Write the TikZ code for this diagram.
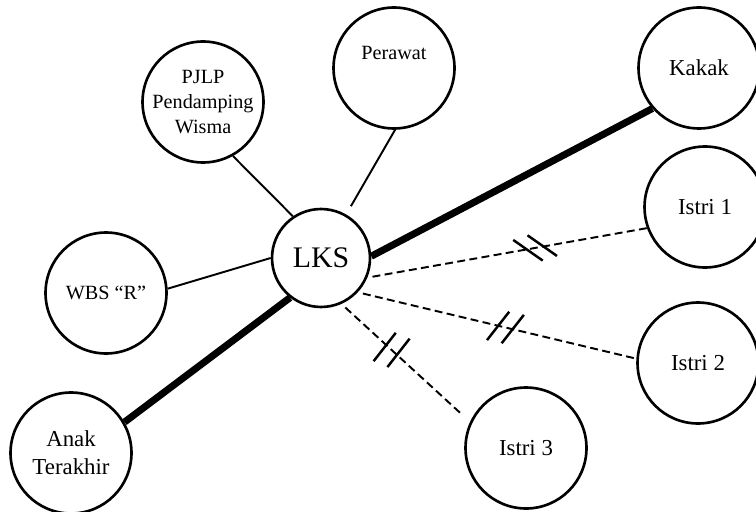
\documentclass[tikz,border=0pt]{standalone}
\usepackage{fontspec}
\setmainfont{Liberation Serif}
\usetikzlibrary{positioning}

% two slanted bars across a broken tie: at, offset angle, bar angle
\newcommand{\dblcut}[3]{%
  \draw[cutline] (#1) ++(#2:-7.5) ++(#3:-18) -- ++(#3:36);
  \draw[cutline] (#1) ++(#2:7.5) ++(#3:-18) -- ++(#3:36);}

\begin{document}
\begin{tikzpicture}[
    x=0.02cm, y=0.02cm,
    person/.style={circle,draw,line width=1.5pt,minimum size=2.42cm,inner sep=0pt,align=center,
        font=\fontsize{13}{16}\selectfont},
    smalltext/.style={font=\fontsize{11.5}{14}\selectfont},
    hub/.style={person,minimum size=1.96cm,font=\fontsize{17}{20}\selectfont},
    link/.style={line width=1.1pt},
    strong/.style={line width=4pt},
    weak/.style={line width=1.1pt,dash pattern=on 4.5pt off 2.5pt,shorten <=3pt},
    cutline/.style={line width=1.4pt}
]
\useasboundingbox (0,0) rectangle (756,511);

% Center
\node[hub] (lks) at (321,253) {LKS};

% Persons around
\node[person,smalltext] (pjlp) at (203,409) {PJLP\\Pendamping\\Wisma};
\node[person,smalltext,text depth=0.6cm] (perawat) at (394,443) {Perawat};
\node[person] (kakak) at (699,443) {Kakak};
\node[person] (istri1) at (705,304) {Istri 1};
\node[person] (istri2) at (698,148) {Istri 2};
\node[person] (istri3) at (526,63) {Istri 3};
\node[person,smalltext] (wbs) at (106,218) {WBS “R”};
\node[person] (anak) at (71,58) {Anak\\Terakhir};

% Ordinary ties
\draw[link] (pjlp.-61) -- (lks.124);
\draw[link,shorten >=0.19cm] (perawat.-89) -- (lks.60);
\draw[link] (wbs.4) -- (lks.180);

% Strong ties
\draw[strong] (kakak.221) -- (lks.2);
\draw[strong] (anak.30) -- (lks.232);

% Broken ties
\draw[weak] (lks.-23) -- coordinate[pos=0.6] (cut1) (istri1.200);
\draw[weak] (lks.-43) -- coordinate[pos=0.53] (cut2) (istri2.176);
\draw[weak,shorten >=0.2cm] (lks.-66) -- coordinate[pos=0.39] (cut3) (istri3.155);
\dblcut{cut1}{18}{-35}
\dblcut{cut2}{-12}{52}
\dblcut{cut3}{-23}{52}

\end{tikzpicture}
\end{document}
